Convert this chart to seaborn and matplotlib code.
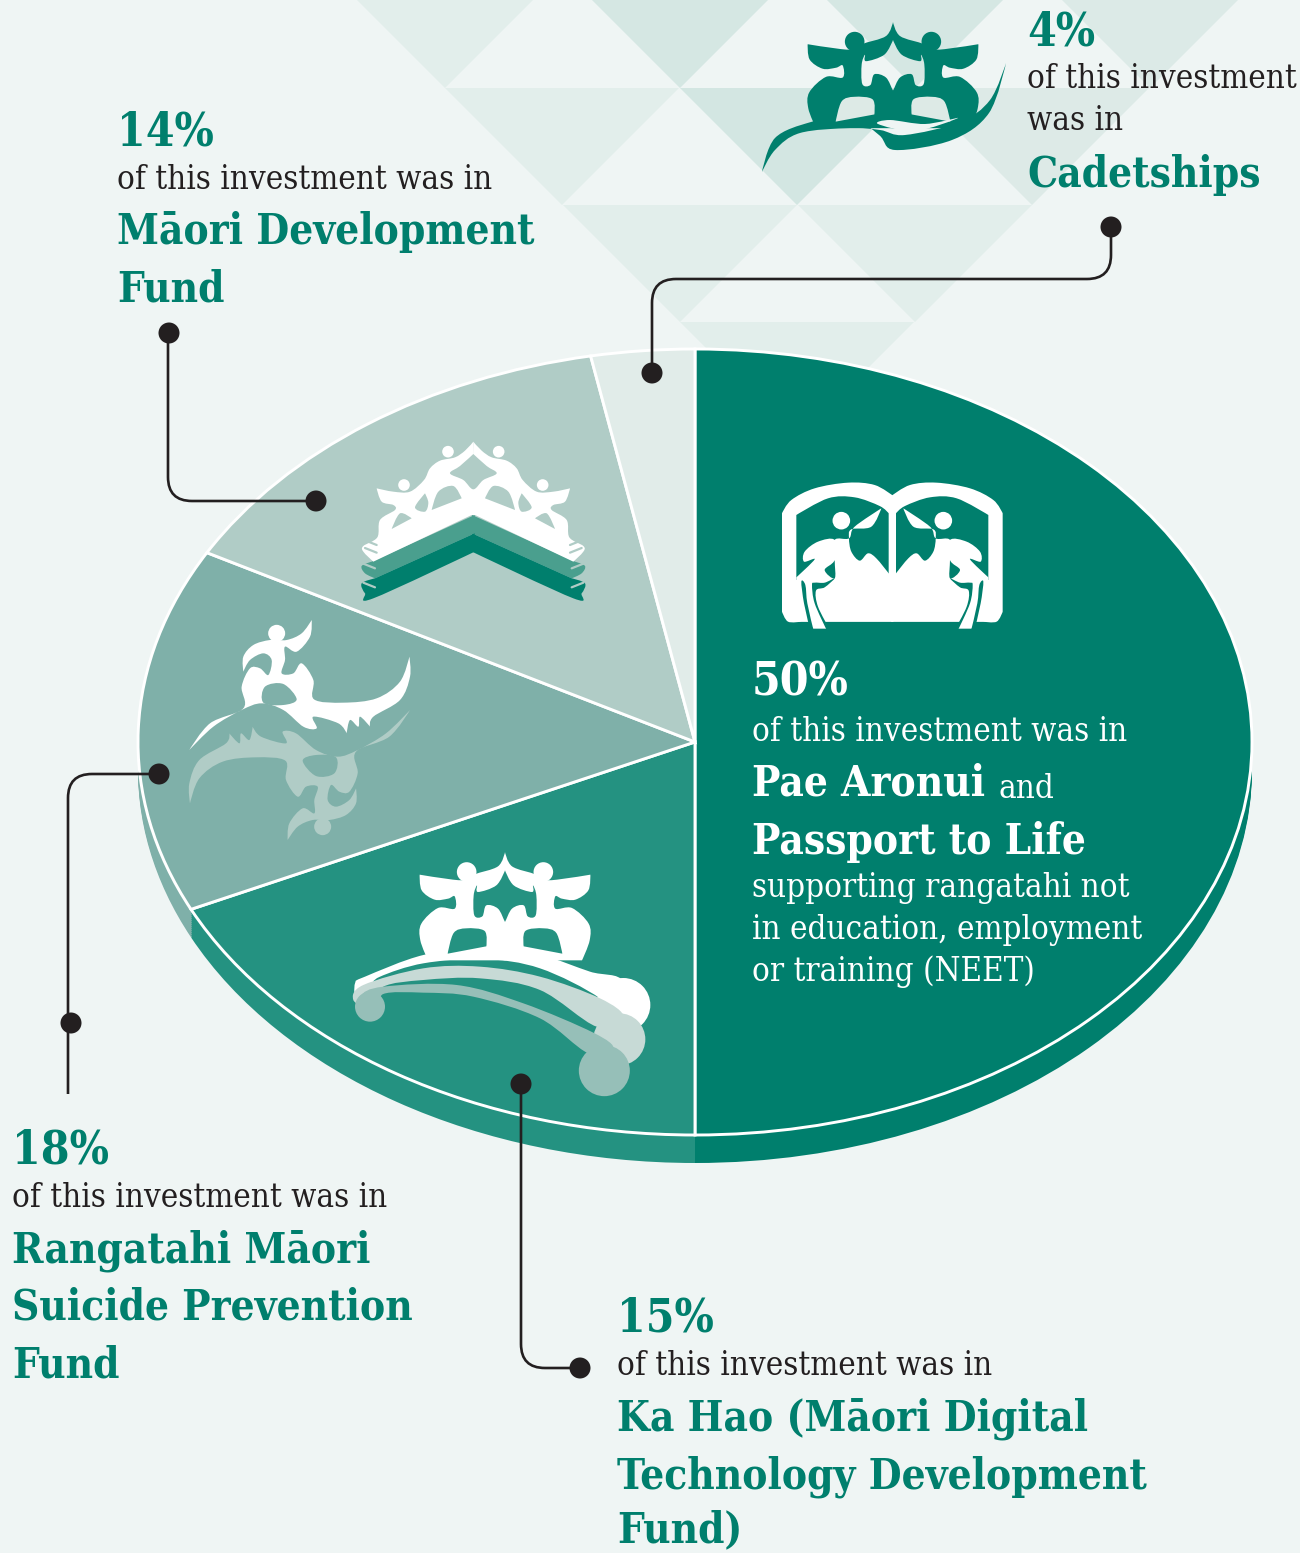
import matplotlib
matplotlib.use("Agg")
import matplotlib.pyplot as plt
import seaborn as sns
from matplotlib.patches import Circle, PathPatch, Polygon
from matplotlib.path import Path

# slice sizes as drawn in the picture, clockwise from the top
categories = ['Pae Aronui and Passport to Life', 'Rangatahi Maori Suicide Prevention Fund',
              'Ka Hao', 'Maori Development Fund', 'Cadetships']
slice_shares = [50, 18, 15, 14, 3]
slice_colors = ['#007F6D', '#249281', '#7FB0A9', '#B0CCC6', '#E1ECE9']

BG = '#EFF5F4'
GREEN = '#007F6D'
INK = '#231F20'
W, H = 1300, 1553
CX, CY, RX, RY, DEPTH = 695, 742, 557, 393, 28

sns.set_theme(style="white")
fig = plt.figure(figsize=(13, 15.53), dpi=100, facecolor=BG)

back = fig.add_axes([0, 0, 1, 1], zorder=0)
back.set_xlim(0, W)
back.set_ylim(H, 0)
back.axis('off')

# triangle pattern behind the chart
down_tris = [(445, '#E2EEEB'), (680, '#D5E7E3'), (915, '#D5E7E3'), (1150, '#DCEAE7')]
for x, c in down_tris:
    back.add_patch(Polygon([(x - 117, -29), (x + 117, -29), (x, 88)], fc=c, lw=0))
for x, c in [(562, '#E2EEEB'), (797, '#D3E6E2'), (1032, '#DDEAE7')]:
    back.add_patch(Polygon([(x - 117, 88), (x + 117, 88), (x, 205)], fc=c, lw=0))
for x, c in [(680, '#E2EEEB'), (915, '#E2EEEB')]:
    back.add_patch(Polygon([(x - 117, 205), (x + 117, 205), (x, 322)], fc=c, lw=0))
back.add_patch(Polygon([(680, 322), (914, 322), (797, 439)], fc='#E2EEEB', lw=0))

# pie, squashed into an ellipse by its limits
pie_ax = fig.add_axes([0, 0, 1, 1], zorder=1)
pal = sns.color_palette(slice_colors)
for k in range(DEPTH, 0, -2):
    pie_ax.pie(slice_shares, colors=pal, startangle=90, counterclock=False,
               center=(0, -k / RY), radius=1,
               wedgeprops=dict(edgecolor='none', linewidth=0, antialiased=True))
pie_ax.pie(slice_shares, colors=pal, startangle=90, counterclock=False, radius=1,
           wedgeprops=dict(edgecolor='white', linewidth=2.1))
pie_ax.set_aspect('auto')
pie_ax.set_xlim(-CX / RX, (W - CX) / RX)
pie_ax.set_ylim((CY - H) / RY, CY / RY)
pie_ax.patch.set_alpha(0)

ax = fig.add_axes([0, 0, 1, 1], zorder=2)
ax.set_xlim(0, W)
ax.set_ylim(H, 0)
ax.axis('off')
ax.patch.set_alpha(0)


def blob(pts, color, z=3):
    # closed spline through the points, a repeated point makes a corner
    n = len(pts)
    verts = [pts[0]]
    codes = [Path.MOVETO]
    for i in range(n):
        a, b = pts[i], pts[(i + 1) % n]
        if a == b:
            continue
        prev, nxt = pts[i - 1], pts[(i + 2) % n]
        t0 = (0, 0) if prev == a else ((b[0] - prev[0]) / 6, (b[1] - prev[1]) / 6)
        t1 = (0, 0) if nxt == b else ((nxt[0] - a[0]) / 6, (nxt[1] - a[1]) / 6)
        verts += [(a[0] + t0[0], a[1] + t0[1]), (b[0] - t1[0], b[1] - t1[1]), b]
        codes += [Path.CURVE4, Path.CURVE4, Path.CURVE4]
    ax.add_patch(PathPatch(Path(verts, codes), fc=color, lw=0, zorder=z))


def sharp(pts):
    return [p for p in pts for _ in (0, 1)]


def zoomed(pts, ox, oy):
    return [(ox + x / 3, oy + y / 3) for x, y in pts]


CROWN = [(494, 35), (494, 35), (515, 78), (585, 102), (605, 118), (650, 118), (750, 103), (750, 103),
         (744, 150), (705, 178), (665, 175), (645, 168), (645, 205), (695, 203), (745, 250), (748, 300),
         (725, 360), (725, 360), (490, 360), (490, 360), (490, 245), (494, 245), (515, 205), (550, 195),
         (562, 228), (586, 225), (588, 165), (578, 135), (575, 155), (520, 135), (494, 90), (494, 90)]
ARCH = [(550, 318), (550, 318), (555, 272), (610, 264), (648, 278), (666, 340), (666, 340)]


def crown(cx, top, sx, sy, color, hole):
    for flip in (False, True):
        f = lambda pts: [(cx + ((494 - x) if flip else (x - 494)) * sx / 3,
                          top + (y - 35) * sy / 3) for x, y in pts]
        blob(f(CROWN), color)
        hx, hy = f([(609, 95)])[0]
        ax.add_patch(Circle((hx, hy), 9.8 * sx, fc=color, lw=0, zorder=3))
        blob(f(ARCH), hole, z=4)


# Ka Hao icon
crown(505, 852, 1, 1, 'white', slice_colors[1])
kh = lambda pts: zoomed(pts, 340, 840)
blob(kh([(75, 410), (250, 345), (430, 325), (600, 345), (750, 395), (850, 425), (850, 560), (780, 475),
         (600, 385), (430, 357), (250, 370), (120, 410), (90, 440), (50, 480), (45, 430)]), 'white')
ax.add_patch(Circle((340 + 850 / 3, 840 + 495 / 3), 27, fc='white', lw=0, zorder=3))
blob(kh([(70, 435), (250, 385), (420, 380), (600, 410), (780, 475), (850, 530), (770, 560), (600, 450),
         (420, 415), (250, 420), (130, 440), (90, 500), (40, 480)]), '#C7DAD6', z=4)
ax.add_patch(Circle((340 + 838 / 3, 840 + 598 / 3), 26, fc='#C7DAD6', lw=0, zorder=4))
blob(kh([(60, 470), (130, 440), (350, 435), (550, 490), (760, 578), (820, 625), (745, 640), (600, 535),
         (400, 470), (250, 458), (130, 462), (120, 510), (60, 530)]), '#96BFB8', z=5)
ax.add_patch(Circle((340 + 793 / 3, 840 + 692 / 3), 25.5, fc='#96BFB8', lw=0, zorder=5))
ax.add_patch(Circle((340 + 90 / 3, 840 + 500 / 3), 15, fc='#96BFB8', lw=0, zorder=5))

# Cadetships icon
crown(893, 22, 1.0, 0.98, GREEN, '#DDEAE6')
blob([(762, 172), (762, 172), (775, 138), (811, 122), (850, 116), (879, 135), (895, 150), (952, 140),
      (989, 113), (1006, 63), (1006, 63), (990, 100), (960, 122), (905, 135), (880, 130), (850, 128),
      (800, 133), (775, 150)], GREEN)
blob([(878, 124), (915, 131), (958, 118), (925, 124), (890, 120)], '#EFF5F4', z=4)

# Maori Development Fund icon
CHEV = [(400, 35), (400, 35), (425, 62), (455, 82), (500, 92), (530, 115), (548, 150), (590, 185),
        (640, 185), (690, 175), (690, 175), (675, 215), (640, 225), (635, 240), (680, 270), (688, 322),
        (730, 348), (730, 365), (700, 395), (700, 395), (405, 255), (405, 255), (396, 255), (396, 255)]
chev = lambda pts, flip=False: [(340 + ((800 - x) if flip else x) / 3, 430 + y / 3) for x, y in pts]
MID = sharp([(396, 255), (705, 395)]) + [(735, 408), (725, 430)] + sharp([(695, 445), (396, 310)])
DARK = sharp([(396, 310), (695, 445)]) + [(735, 460), (725, 490), (700, 505)] + sharp([(396, 365)])
for flip in (False, True):
    blob(chev(MID, flip), '#4A9F8E')
    blob(chev(DARK, flip), GREEN)
    blob(chev(CHEV, flip), 'white', z=4)
    blob(chev([(435, 205), (435, 205), (460, 168), (505, 185), (525, 240), (525, 240)], flip),
         slice_colors[3], z=5)
    blob(chev([(585, 265), (585, 265), (620, 250), (645, 297), (645, 297)], flip), slice_colors[3], z=5)
    blob(chev([(545, 190), (545, 190), (575, 232), (545, 245), (535, 218)], flip), slice_colors[3], z=5)
    for hx, hy in [(476, 65), (608, 165)]:
        px, py = chev([(hx, hy)], flip)[0]
        ax.add_patch(Circle((px, py), 5.8, fc='white', lw=0, zorder=4))
    # finger notches at the band ends
    for (x0, y0), col in [((690, 345), slice_colors[3]), ((690, 368), slice_colors[3]),
                          ((695, 415), slice_colors[3]), ((695, 472), slice_colors[3])]:
        (a, b), (c, d) = chev([(x0, y0), (x0 + 35, y0 - 14)], flip)
        ax.plot([a, c], [b, d], color=col, lw=1.6, solid_capstyle='round', zorder=6)
blob(chev([(400, 72), (400, 72), (440, 108), (470, 130), (430, 150), (400, 178), (370, 150), (330, 130),
           (360, 108)]), slice_colors[3], z=5)

# Suicide prevention icon, white figure and its turned-over shadow
FIG = [(425, 30), (425, 30), (420, 80), (380, 125), (345, 110), (345, 150), (335, 190), (370, 190),
       (395, 160), (430, 210), (432, 268), (520, 278), (620, 265), (690, 215), (718, 140), (718, 140),
       (720, 200), (690, 270), (610, 320), (600, 350), (600, 350), (570, 320), (565, 350), (540, 330),
       (530, 370), (530, 370), (505, 340), (430, 320), (440, 355), (400, 350), (340, 300), (275, 280),
       (215, 300), (130, 350), (58, 420), (58, 420), (120, 340), (220, 295), (215, 230), (240, 175),
       (270, 175), (295, 195), (305, 150), (280, 130), (240, 150), (220, 185), (220, 185), (220, 140),
       (250, 105), (300, 90), (350, 90), (395, 70)]
HOLE = [(280, 278), (285, 230), (340, 222), (380, 268), (340, 285)]
fg = lambda pts: zoomed(pts, 170, 610)
turned = lambda pts: zoomed([(778 - x, 720 - y) for x, y in pts], 170, 610)
blob(turned(FIG), slice_colors[3])
blob(turned(HOLE), slice_colors[2], z=4)
ax.add_patch(Circle((170 + 458 / 3, 610 + 650 / 3), 8.5, fc=slice_colors[3], lw=0, zorder=4))
blob(fg(FIG), 'white', z=5)
blob(fg(HOLE), slice_colors[2], z=6)
ax.add_patch(Circle((170 + 320 / 3, 610 + 70 / 3), 8.5, fc='white', lw=0, zorder=5))

# book icon
FRAME = [(364, 78), (364, 78), (420, 45), (500, 38), (600, 55), (670, 90), (698, 130), (698, 130), (698, 425), (698, 425),
         (680, 455), (640, 455), (640, 455), (364, 455), (364, 455)]
PANEL = sharp([(378, 330), (378, 130)]) + [(405, 108), (480, 82), (560, 85), (655, 135), (655, 135),
                                            (655, 330), (655, 330)]
BODY = [(400, 115), (400, 115), (430, 170), (490, 178), (497, 205), (490, 245), (465, 272), (440, 250), (415, 265),
        (378, 310), (378, 310), (364, 310), (364, 310), (364, 455), (364, 455), (655, 455), (655, 455), (655, 322),
        (655, 322), (600, 268), (632, 275), (630, 245), (590, 215), (540, 210), (540, 270), (570, 300), (540, 325),
        (540, 270), (540, 210), (497, 205), (480, 170)]
bk = lambda pts, flip=False: [(770 + ((734 - x) if flip else x) / 3, 470 + y / 3) for x, y in pts]
for flip in (False, True):
    blob(bk(FRAME, flip), 'white')
    blob(bk(PANEL, flip), GREEN, z=4)
    blob(bk(BODY, flip), 'white', z=5)
    # tail piece below the frame and the two dark curves beside it
    blob(bk(sharp([(572, 450), (620, 450), (605, 476), (560, 476)]), flip), 'white', z=5)
    blob(bk([(640, 335), (632, 400), (614, 478), (614, 478), (604, 478), (604, 478), (622, 400), (628, 345)], flip),
         GREEN, z=6)
    blob(bk([(608, 345), (600, 400), (565, 478), (565, 478), (555, 478), (555, 478), (590, 410), (596, 362),
             (570, 352), (540, 325), (570, 338), (600, 338)], flip), GREEN, z=6)
    px, py = bk([(520, 152)], flip)[0]
    ax.add_patch(Circle((px, py), 8.8, fc='white', lw=0, zorder=5))


# leader lines
def leader(points, r=24):
    verts = [points[0]]
    codes = [Path.MOVETO]
    for i in range(1, len(points) - 1):
        (x0, y0), (x1, y1), (x2, y2) = points[i - 1], points[i], points[i + 1]
        sgn = lambda v: (v > 0) - (v < 0)
        verts += [(x1 - sgn(x1 - x0) * r, y1 - sgn(y1 - y0) * r), (x1, y1),
                  (x1 + sgn(x2 - x1) * r, y1 + sgn(y2 - y1) * r)]
        codes += [Path.LINETO, Path.CURVE3, Path.CURVE3]
    verts.append(points[-1])
    codes.append(Path.LINETO)
    ax.add_patch(PathPatch(Path(verts, codes), fc='none', ec=INK, lw=1.9, zorder=8))


leader([(1111, 227), (1111, 279), (652, 279), (652, 373)])
leader([(168, 333), (168, 501), (316, 501)])
leader([(159, 774), (68, 774), (68, 1094)])
leader([(521, 1084), (521, 1368), (580, 1368)])
for x, y in [(1111, 227), (652, 373), (169, 333), (316, 501), (159, 774), (71, 1023), (521, 1084), (580, 1368)]:
    ax.add_patch(Circle((x, y), 10.5, fc=INK, lw=0, zorder=9))

# text sizes are fitted to the measured line widths
renderer = fig.canvas.get_renderer()
BODY_FONT = dict(family='DejaVu Serif', stretch='condensed')
HEAD_FONT = dict(family='DejaVu Serif', stretch='condensed', weight='bold')


def fit(label, width, font):
    t = ax.text(0, 0, label, fontsize=20, **font)
    w = t.get_window_extent(renderer).width
    t.remove()
    return 20 * width / w


BODY_SIZE = fit('of this investment was in', 374, BODY_FONT)
HEAD_SIZE = fit('Māori Development', 417, HEAD_FONT)
PCT_SIZE = fit('14%', 97, HEAD_FONT)


def pct(x, y, s, c=GREEN):
    ax.text(x, y, s, color=c, fontsize=PCT_SIZE, va='baseline', zorder=10, **HEAD_FONT)


def body(x, y, s, c=INK):
    ax.text(x, y, s, color=c, fontsize=BODY_SIZE, va='baseline', zorder=10, **BODY_FONT)


def head(x, y, s, c=GREEN):
    ax.text(x, y, s, color=c, fontsize=HEAD_SIZE, va='baseline', zorder=10, **HEAD_FONT)


pct(117, 146, '14%')
body(117, 189, 'of this investment was in')
head(117, 244, 'Māori Development')
head(117, 302, 'Fund')

pct(1027, 46, '4%')
body(1027, 88, 'of this investment')
body(1027, 130, 'was in')
head(1027, 187, 'Cadetships')

pct(12, 1164, '18%')
body(12, 1207, 'of this investment was in')
head(12, 1262, 'Rangatahi Māori')
head(12, 1320, 'Suicide Prevention')
head(12, 1378, 'Fund')

pct(617, 1332, '15%')
body(617, 1375, 'of this investment was in')
head(617, 1430, 'Ka Hao (Māori Digital')
head(617, 1488, 'Technology Development')
head(617, 1542, 'Fund)')

pct(752, 696, '50%', 'white')
body(752, 741, 'of this investment was in', 'white')
head(752, 796, 'Pae Aronui', 'white')
body(998, 798, 'and', 'white')
head(752, 854, 'Passport to Life', 'white')
body(752, 897, 'supporting rangatahi not', 'white')
body(752, 939, 'in education, employment', 'white')
body(752, 981, 'or training (NEET)', 'white')

fig.savefig('out.png', dpi=100, facecolor=BG)
